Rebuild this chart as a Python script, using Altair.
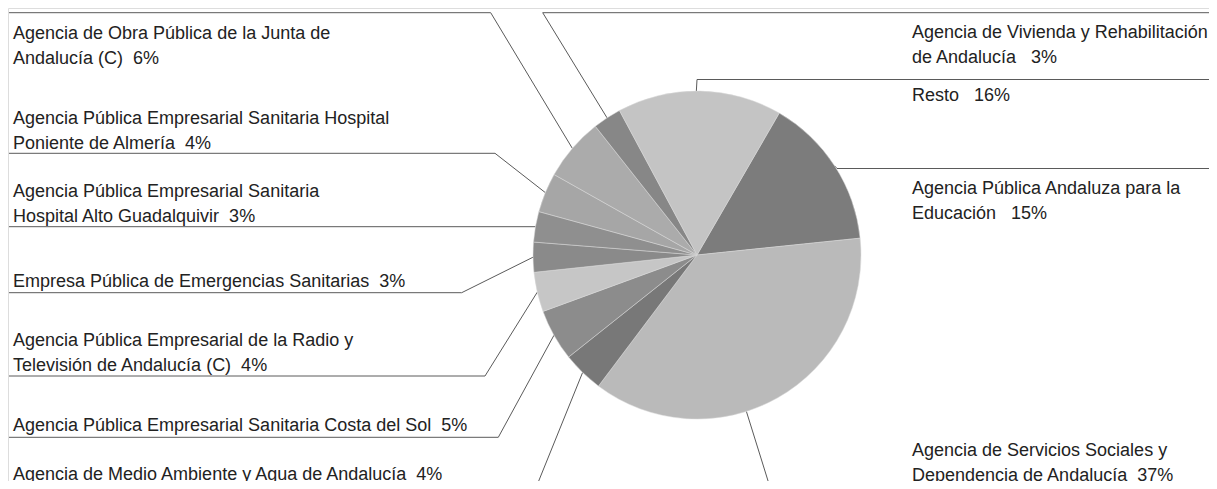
import math
import altair as alt
import pandas as pd

# ---- data ----
names = [
    "Agencia Pública Andaluza para la Educación",
    "Agencia de Servicios Sociales y Dependencia de Andalucía",
    "Agencia de Medio Ambiente y Agua de Andalucía",
    "Agencia Pública Empresarial Sanitaria Costa del Sol",
    "Agencia Pública Empresarial de la Radio y Televisión de Andalucía (C)",
    "Empresa Pública de Emergencias Sanitarias",
    "Agencia Pública Empresarial Sanitaria Hospital Alto Guadalquivir",
    "Agencia Pública Empresarial Sanitaria Hospital Poniente de Almería",
    "Agencia de Obra Pública de la Junta de Andalucía (C)",
    "Agencia de Vivienda y Rehabilitación de Andalucía",
    "Resto",
]
values = [15.0, 36.9, 4.05, 5.1, 3.9, 2.95, 3.0, 3.9, 6.2, 2.8, 16.2]
label_lines = [
    "Agencia Pública Andaluza para la\nEducación\u00a0\u00a0\u00a0",
    "Agencia de Servicios Sociales y\nDependencia de Andalucía\u00a0\u00a0",
    "Agencia de Medio Ambiente y Agua de Andalucía\u00a0\u00a0",
    "Agencia Pública Empresarial Sanitaria Costa del Sol\u00a0\u00a0",
    "Agencia Pública Empresarial de la Radio y\nTelevisión de Andalucía (C)\u00a0\u00a0",
    "Empresa Pública de Emergencias Sanitarias\u00a0\u00a0",
    "Agencia Pública Empresarial Sanitaria\nHospital Alto Guadalquivir\u00a0\u00a0",
    "Agencia Pública Empresarial Sanitaria Hospital\nPoniente de Almería\u00a0\u00a0",
    "Agencia de Obra Pública de la Junta de\nAndalucía (C)\u00a0\u00a0",
    "Agencia de Vivienda y Rehabilitación\nde Andalucía\u00a0\u00a0\u00a0",
    "Resto\u00a0\u00a0\u00a0",
]

# ---- styling / layout (screen pixels of the 1217x489 page) ----
colors = ["#7c7c7c", "#bababa", "#787878", "#8c8c8c", "#c6c6c6", "#8a8a8a",
          "#8f8f8f", "#a6a6a6", "#ababab", "#878787", "#c4c4c4"]
cx, cy, R = 697, 255, 164
start_deg = 30.1
anchor_frac = [0.5, 0.59, 0.5, 0.5, 0.5, 0.5, 0.5, 0.5, 0.5, 0.5, 0.48]
elbow_x = [837, 774, 531, 498.3, 485, 461.7, 535.5, 495, 490.7, 542.7, 697]
elbow_y = [168.5, 500, 500, 437.3, 376, 292.7, 226.7, 153.3, 12.7, 12.7, 79.5]
end_x = [1220, 1220, -5, 9, 9, 9, 9, 9, 9, 1220, 1220]
label_x = [912, 912, 13, 13, 13, 13, 13, 13, 13, 912, 912]
label_y = [194.3, 456, 480, 431.3, 346, 286.7, 196.5, 123.5, 39, 38.3, 101]

M = 8
W, H = 1201, 473
total = sum(values)

cum_start, c = [], 0.0
for v in values:
    cum_start.append(c)
    c += v
pie_df = pd.DataFrame({
    "name": names, "value": values,
    "v0": cum_start, "v1": [s + v for s, v in zip(cum_start, values)],
})

rows = []
for i, (n, v) in enumerate(zip(names, values)):
    a = math.radians(start_deg + 360 * (cum_start[i] + v * anchor_frac[i]) / total)
    rows.append({"name": n, "o": 0, "x": cx + R * math.sin(a), "y": cy - R * math.cos(a)})
    rows.append({"name": n, "o": 1, "x": elbow_x[i], "y": elbow_y[i]})
    rows.append({"name": n, "o": 2, "x": end_x[i], "y": elbow_y[i]})
lead_df = pd.DataFrame(rows)

lab_df = pd.DataFrame({
    "name": names,
    "text": [t + f"{round(v)}%" for t, v in zip(label_lines, values)],
    "x": label_x,
    "y": label_y,
})

xs = alt.Scale(domain=[M, M + W], nice=False, zero=False)
ys = alt.Scale(domain=[M, M + H], nice=False, zero=False, reverse=True)

start = math.radians(start_deg)
pie = alt.Chart(pie_df).mark_arc(radius=R, stroke="#d8d8d8", strokeWidth=0.5).encode(
    theta=alt.Theta("v0:Q", scale=alt.Scale(domain=[0, total], range=[start, start + 2 * math.pi])),
    theta2="v1:Q",
    color=alt.Color("name:N", scale=alt.Scale(domain=names, range=colors), legend=None),
    x=alt.value(cx - M),
    y=alt.value(cy - M),
)

lines = alt.Chart(lead_df).mark_line(color="#5a5a5a", strokeWidth=1, clip=True).encode(
    x=alt.X("x:Q", scale=xs, axis=None),
    y=alt.Y("y:Q", scale=ys, axis=None),
    detail="name:N",
    order="o:Q",
)

labels = alt.Chart(lab_df).mark_text(
    align="left", baseline="alphabetic", lineBreak="\n", lineHeight=25,
    font="Liberation Sans", fontSize=18, color="#222222",
).encode(
    x=alt.X("x:Q", scale=xs, axis=None),
    y=alt.Y("y:Q", scale=ys, axis=None),
    text="text:N",
)

chart = alt.layer(lines, pie, labels).properties(
    width=W, height=H, padding=0,
    autosize=alt.AutoSizeParams(type="none"),
).configure_view(stroke=None).configure(background="white")

chart.save("out.html", embed_options={"renderer": "svg", "actions": False})
